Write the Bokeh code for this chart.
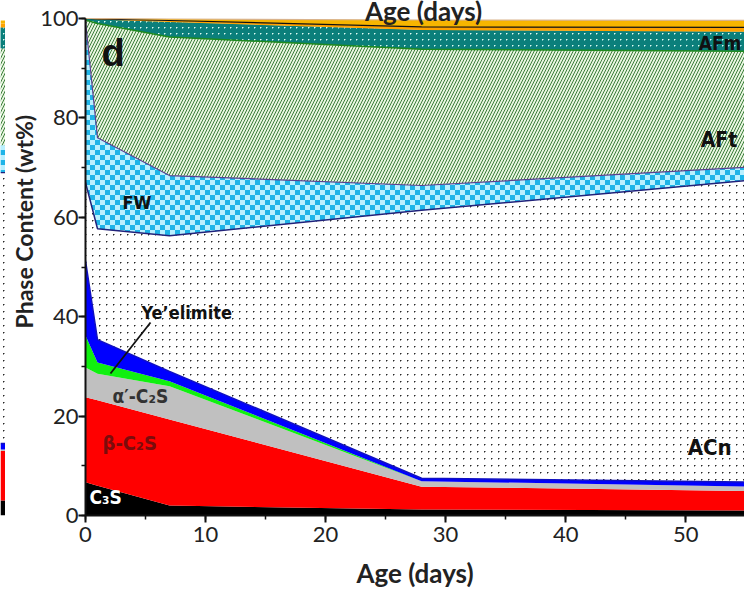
import base64, struct, zlib
from bokeh.plotting import figure
from bokeh.layouts import row
from bokeh.models import Label, SingleIntervalTicker, ImageURLTexture, Range1d, Title
from bokeh.core.properties import value
from bokeh.embed import file_html
from bokeh.resources import INLINE

# ---------------- data (cumulative tops, wt%) ----------------
age = [0, 1, 7, 28, 56]
c3s_top = [6.7, 6.0, 2.0, 1.2, 1.0]
beta_c2s_top = [23.8, 23.2, 19.3, 5.8, 4.9]
alpha_c2s_top = [29.8, 28.5, 26.0, 6.9, 5.8]
yeelimite_top = [36.2, 30.8, 27.0, 6.9, 5.8]
ferrite_top = [51.3, 35.4, 29.0, 7.5, 6.7]
acn_top = [67.0, 57.7, 56.3, 61.4, 67.6]
fw_top = [99.5, 76.0, 68.4, 66.4, 70.2]
aft_top = [99.7, 99.0, 96.3, 93.8, 93.4]
afm_top = [100.0, 99.8, 99.3, 97.7, 97.3]
other1_top = [100.0, 99.9, 99.6, 98.3, 98.2]
other2_top = [100.0, 100.0, 99.9, 99.7, 99.6]

# neighbouring panel (c), last age, cumulative tops in same layer order
panel_c_tops = [3.0, 13.0, 13.3, 13.3, 14.5, 69.0, 74.5, 94.0, 98.2, 99.0, 99.6]

layer_names = ["C3S", "beta-C2S", "alpha'-C2S", "Ye'elimite", "Ferrite", "ACn", "FW", "AFt", "AFm", "Other1", "Other2"]
tops = [c3s_top, beta_c2s_top, alpha_c2s_top, yeelimite_top, ferrite_top,
        acn_top, fw_top, aft_top, afm_top, other1_top, other2_top]

x_ticks_interval = 10
y_ticks_interval = 20

# ---------------- pattern textures (tiny PNGs) ----------------
def png_uri(pix):
    h = len(pix); w = len(pix[0])
    raw = b"".join(b"\x00" + b"".join(bytes(c) for c in r) for r in pix)
    def chunk(t, d):
        return struct.pack(">I", len(d)) + t + d + struct.pack(">I", zlib.crc32(t + d) & 0xffffffff)
    png = (b"\x89PNG\r\n\x1a\n"
           + chunk(b"IHDR", struct.pack(">IIBBBBB", w, h, 8, 2, 0, 0, 0))
           + chunk(b"IDAT", zlib.compress(raw))
           + chunk(b"IEND", b""))
    return "data:image/png;base64," + base64.b64encode(png).decode()

def checker(size, cell, c1, c2):
    return [[c1 if ((x // cell) + (y // cell)) % 2 == 0 else c2 for x in range(size)] for y in range(size)]

def dots(size, bg, fg, soft):
    pix = [[bg for _ in range(size)] for _ in range(size)]
    h = size // 2
    pix[h][h] = fg
    pix[h][h + 1] = soft
    pix[h + 1][h] = soft
    return pix

checker_tex = ImageURLTexture(url=png_uri(checker(10, 5, (30, 180, 232), (185, 240, 255))), repetition="repeat")
acn_tex = ImageURLTexture(url=png_uri(dots(7, (255, 255, 255), (40, 40, 40), (150, 150, 150))), repetition="repeat")
afm_tex = ImageURLTexture(url=png_uri(dots(6, (11, 127, 123), (225, 250, 245), (110, 190, 182))), repetition="repeat")

styles = [
    dict(fill_color="#000000"),
    dict(fill_color="#ff0000"),
    dict(fill_color="#c0c0c0"),
    dict(fill_color="#10f010"),
    dict(fill_color="#0000ff"),
    dict(fill_color="#ffffff", hatch_pattern=value("acn"), hatch_extra={"acn": acn_tex}),
    dict(fill_color="#7fd8f5", hatch_pattern=value("checker"), hatch_extra={"checker": checker_tex}),
    dict(fill_color="#e8f5e0", hatch_pattern="right_diagonal_line", hatch_color="#3a7d3a", hatch_scale=6, hatch_weight=1.0),
    dict(fill_color="#0b7f7b", hatch_pattern=value("afm"), hatch_extra={"afm": afm_tex}),
    dict(fill_color="#ffa200"),
    dict(fill_color="#f7b500"),
]

FONT_AX = "Lato"
FONT_LB = "DejaVu Sans Condensed"
Y_TOP = 515 / 4.97   # frame reaches the top of the page; the axis stops at 100
STRIP = 5

def dx(px):
    return (px - 85) / 12.0
def dy(py):
    return (515 - py) / 4.97

# ---------------- main panel (d) ----------------
p = figure(width=744 - STRIP, height=595, output_backend="svg", toolbar_location=None,
           x_range=Range1d(0, 54.9), y_range=Range1d(0, Y_TOP),
           min_border_left=85 - STRIP, min_border_right=0, min_border_top=0, min_border_bottom=80)
p.outline_line_color = None
p.grid.visible = False
p.background_fill_color = "white"

lower = [0.0] * len(age)
for name, top, st in zip(layer_names, tops, styles):
    p.varea(x=age, y1=lower, y2=top, **st)
    lower = top

p.line(age, ferrite_top, line_color="#1010c0", line_width=1.5)
p.line(age, acn_top, line_color="#22227a", line_width=1.5)
p.line(age, fw_top, line_color="#5b3f8f", line_width=1.2)
p.line(age, aft_top, line_color="#1f8a1f", line_width=1.5)
p.line(age, other1_top, line_color="#111111", line_width=1.2)
p.line(age, other2_top, line_color="#d9b38c", line_width=1.2)

for ax in (p.xaxis, p.yaxis):
    ax.axis_line_width = 2
    ax.axis_line_color = "#111111"
    ax.major_tick_line_width = 2
    ax.major_tick_line_color = "#111111"
    ax.minor_tick_line_width = 1.5
    ax.minor_tick_line_color = "#111111"
    ax.major_tick_in = 0
    ax.major_tick_out = 7
    ax.minor_tick_in = 0
    ax.minor_tick_out = 4
    ax.major_label_text_font = FONT_AX
    ax.major_label_text_font_size = "22px"
    ax.major_label_text_color = "#222222"
p.xaxis.ticker = SingleIntervalTicker(interval=x_ticks_interval, num_minor_ticks=2)
p.yaxis.ticker = SingleIntervalTicker(interval=y_ticks_interval, num_minor_ticks=2)
p.yaxis.bounds = (0, 100)
p.xaxis.major_label_standoff = 4
p.yaxis.major_label_standoff = 0

p.xaxis.axis_label = "Age (days)"
p.xaxis.axis_label_text_font = FONT_AX
p.xaxis.axis_label_text_font_size = "26px"
p.xaxis.axis_label_text_font_style = "bold"
p.xaxis.axis_label_text_color = "#222222"
p.xaxis.axis_label_standoff = 12

# y title: starts (bottom end) at about y=328 px, i.e. 187 px above the frame bottom
p.add_layout(Title(text="Phase Content (wt%)", align="left", offset=187, standoff=0,
                   text_font=FONT_AX, text_font_size="23px", text_font_style="bold",
                   text_color="#222222"), "left")

def lab(text, px, py, size, color="#111111", font=FONT_LB, align="left", baseline="middle", style="bold"):
    p.add_layout(Label(x=dx(px), y=dy(py), text=text, text_font=font, text_font_size=size,
                       text_font_style=style, text_color=color, text_align=align,
                       text_baseline=baseline))

lab("d", 101, 52, "38px", font="Liberation Sans")
lab("AFm", 698, 42, "19px")
lab("AFt", 700, 139, "21px")
lab("FW", 122, 202, "18px")
lab("Ye\u2019elimite", 141, 312, "18px")
lab("\u03b1\u2032-C\u2082S", 112, 395, "19px", color="#333333")
lab("\u03b2-C\u2082S", 102, 442, "20px", color="#7a0c0c")
lab("C\u2083S", 89, 496, "19px", color="#ffffff")
lab("ACn", 687, 447, "22px")

# leader line from Ye'elimite label to its area
p.line([dx(150), dx(110)], [dy(322), dy(373)], line_color="#111111", line_width=1.8)

# cut-off x-axis title of the panel above
lab("Age (days)", 423, 10, "26px", font=FONT_AX, align="center", baseline="alphabetic", color="#222222")

# ---------------- left strip: sliver of panel (c) ----------------
q = figure(width=STRIP, height=595, output_backend="svg", toolbar_location=None,
           x_range=Range1d(0, 1), y_range=Range1d(0, Y_TOP),
           x_axis_location=None, y_axis_location=None,
           min_border_left=0, min_border_right=0, min_border_top=0, min_border_bottom=80)
q.outline_line_color = None
q.grid.visible = False
lo = 0.0
for top, st in zip(panel_c_tops, styles):
    q.varea(x=[0, 1], y1=[lo, lo], y2=[top, top], **st)
    lo = top
q.line([0, 1], [panel_c_tops[4]] * 2, line_color="#1010c0", line_width=1.5)
q.line([0, 1], [panel_c_tops[5]] * 2, line_color="#22227a", line_width=1.2)

layout = row(q, p, spacing=0)
open("out.html", "w").write(file_html(layout, INLINE))
